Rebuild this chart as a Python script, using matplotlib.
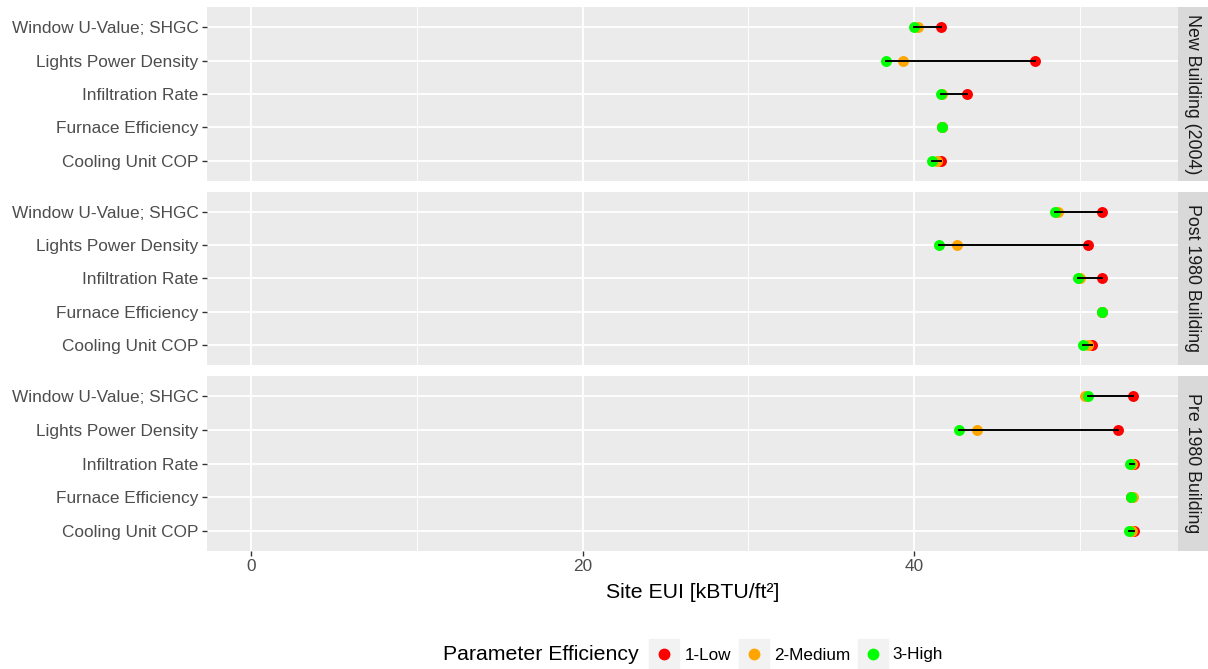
import matplotlib.pyplot as plt
from matplotlib.lines import Line2D
from matplotlib.ticker import MultipleLocator

plt.rcParams['font.family'] = ['Liberation Sans', 'DejaVu Sans']

params = ["Window U-Value; SHGC", "Lights Power Density", "Infiltration Rate",
          "Furnace Efficiency", "Cooling Unit COP"]
buildings = ["New Building (2004)", "Post 1980 Building", "Pre 1980 Building"]

# Site EUI per parameter level, one list per building
new_low = [41.6, 47.3, 43.2, 41.7, 41.6]
new_med = [40.2, 39.3, 41.7, 41.7, 41.4]
new_high = [40.0, 38.3, 41.6, 41.7, 41.1]

post_low = [51.3, 50.5, 51.3, 51.3, 50.7]
post_med = [48.7, 42.6, 50.0, 51.3, 50.5]
post_high = [48.5, 41.5, 49.9, 51.3, 50.2]

pre_low = [53.2, 52.3, 53.25, 53.1, 53.25]
pre_med = [50.3, 43.8, 53.15, 53.2, 53.13]
pre_high = [50.5, 42.7, 53.0, 53.07, 52.95]

levels = ["1-Low", "2-Medium", "3-High"]
level_colors = ["#FF0000", "#FFA500", "#00FF00"]

data = [(new_low, new_med, new_high),
        (post_low, post_med, post_high),
        (pre_low, pre_med, pre_high)]

W, H = 1208, 669
fig = plt.figure(figsize=(W / 100, H / 100), dpi=100)

left, right = 207, 1178
panels = [(7, 181), (192, 365), (376, 551)]
strip_w = 30

xmax = max(max(v) for d in data for v in d)
xlo, xhi = 0 - 0.05 * xmax, xmax * 1.05

ypos = list(range(len(params), 0, -1))

for i, ((top, bot), bname, series) in enumerate(zip(panels, buildings, data)):
    ax = fig.add_axes([left / W, 1 - bot / H, (right - left) / W, (bot - top) / H])
    ax.set_facecolor("#EBEBEB")
    for s in ax.spines.values():
        s.set_visible(False)
    ax.set_xlim(xlo, xhi)
    ax.set_ylim(0.4, len(params) + 0.6)
    ax.xaxis.set_major_locator(MultipleLocator(20))
    ax.xaxis.set_minor_locator(MultipleLocator(10))
    ax.grid(which="major", color="white", linewidth=1.3)
    ax.grid(which="minor", axis="x", color="white", linewidth=0.65)
    ax.set_axisbelow(True)
    ax.set_yticks(ypos)
    ax.set_yticklabels(params)
    ax.tick_params(axis="y", length=3.6, width=1, color="#333333", labelsize=12.4,
                   labelcolor="#4D4D4D", pad=2.5)
    ax.tick_params(axis="x", which="minor", length=0)
    if i < 2:
        ax.tick_params(axis="x", length=0, labelbottom=False)
    else:
        ax.tick_params(axis="x", length=3.6, width=1, color="#333333", labelsize=12.4,
                       labelcolor="#4D4D4D", pad=2.5)

    low, med, high = series
    for vals, col in zip(series, level_colors):
        ax.scatter(vals, ypos, s=62, color=col, zorder=3, linewidths=0)
    for y, h, l in zip(ypos, high, low):
        ax.plot([h, l], [y, y], color="black", linewidth=1.4, zorder=4)

    sax = fig.add_axes([right / W, 1 - bot / H, strip_w / W, (bot - top) / H])
    sax.set_facecolor("#D9D9D9")
    sax.set_xticks([])
    sax.set_yticks([])
    for s in sax.spines.values():
        s.set_visible(False)
    sax.text(0.5, 0.5, bname, rotation=-90, ha="center", va="center",
             fontsize=12.8, color="#1A1A1A", transform=sax.transAxes)

fig.text(((left + right) / 2) / W, 1 - 592 / H, "Site EUI [kBTU/ft²]",
         ha="center", va="center", fontsize=15.3, color="black")

fig.text(443 / W, 1 - 655 / H, "Parameter Efficiency", ha="left", va="center",
         fontsize=15.3, color="black")
handles = [(Line2D([], [], marker="s", markersize=21, linestyle="none",
                   color="#F2F2F2"),
            Line2D([], [], marker="o", markersize=7.5, linestyle="none", color=c))
           for c in level_colors]
fig.legend(handles, levels, ncol=3, loc="center left",
           bbox_to_anchor=(652 / W, 1 - 655 / H), frameon=False, fontsize=12.3,
           handlelength=1.45, handletextpad=0.45, columnspacing=0.6,
           borderaxespad=0, borderpad=0)

fig.savefig("out.png", dpi=100)
